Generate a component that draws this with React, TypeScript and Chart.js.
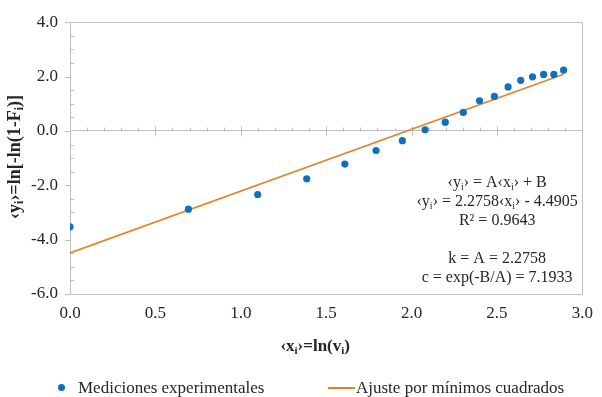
import React, { useEffect, useRef } from "react";
import { Chart, registerables } from "chart.js";

Chart.register(...registerables);

// ---- Data ----
const xValues = [0, 0.693, 1.099, 1.386, 1.609, 1.792, 1.946, 2.079, 2.197, 2.303, 2.398, 2.485, 2.565, 2.639, 2.708, 2.773, 2.833, 2.89];
const yValues = [-3.53, -2.88, -2.34, -1.76, -1.22, -0.72, -0.36, 0.04, 0.32, 0.68, 1.11, 1.27, 1.62, 1.86, 1.99, 2.08, 2.08, 2.24];
const fitX = [0, 2.89];
const fitY = [-4.4905, 2.0866];
const seriesNames = ["Mediciones experimentales", "Ajuste por mínimos cuadrados"];
const annotationLines = [
  "‹y_i› = A‹x_i› + B",
  "‹y_i› = 2.2758‹x_i› - 4.4905",
  "R² = 0.9643",
  "",
  "k = A = 2.2758",
  "c = exp(-B/A) = 7.1933",
];
const xTitle = "‹x_i›=ln(v_i)";
const yTitle = "‹y_i›=ln[-ln(1-F_i)]";
const xRange = [0, 3];
const yRange = [-6, 4];

const FONT = '"Liberation Serif", "Times New Roman", serif';
const DOT = "#1070C0";
const FIT = "#E0842E";
const AXIS = "#BFBFBF";
const TEXT = "#262626";

type Seg = { t: string; sub: boolean };
function parts(s: string): Seg[] {
  const out: Seg[] = [];
  let buf = "";
  for (let i = 0; i < s.length; i++) {
    if (s[i] === "_" && i + 1 < s.length) {
      if (buf) out.push({ t: buf, sub: false });
      buf = "";
      out.push({ t: s[i + 1], sub: true });
      i++;
    } else buf += s[i];
  }
  if (buf) out.push({ t: buf, sub: false });
  return out;
}

function drawRich(ctx: CanvasRenderingContext2D, s: string, x: number, y: number, size: number, weight: string, align: string) {
  const segs = parts(s);
  const widths = segs.map((g) => {
    ctx.font = `${weight} ${g.sub ? Math.round(size * 0.65) : size}px ${FONT}`;
    return ctx.measureText(g.t).width;
  });
  const total = widths.reduce((a, b) => a + b, 0);
  let cx = align === "center" ? x - total / 2 : align === "right" ? x - total : x;
  ctx.textAlign = "left";
  ctx.textBaseline = "alphabetic";
  segs.forEach((g, i) => {
    ctx.font = `${weight} ${g.sub ? Math.round(size * 0.65) : size}px ${FONT}`;
    ctx.fillText(g.t, cx, g.sub ? y + size * 0.18 : y);
    cx += widths[i];
  });
}

const decorPlugin = {
  id: "decor",
  beforeDatasetsDraw(chart: any) {
    const ctx = chart.ctx as CanvasRenderingContext2D;
    const xs = chart.scales.x;
    const ys = chart.scales.y;
    const left = chart.chartArea.left;
    const y0 = ys.getPixelForValue(0);
    ctx.save();
    ctx.strokeStyle = AXIS;
    ctx.lineWidth = 1;
    ctx.beginPath();
    // y axis ticks: major outside, minor inside
    for (let k = 0; k <= 20; k++) {
      const v = yRange[0] + k * 0.5;
      const py = Math.round(ys.getPixelForValue(v)) + 0.5;
      if (k % 4 === 0) {
        ctx.moveTo(left - 5, py);
        ctx.lineTo(left, py);
      } else {
        ctx.moveTo(left, py);
        ctx.lineTo(left + 4, py);
      }
    }
    // x axis (at y=0) ticks: major cross, minor above
    const py0 = Math.round(y0) + 0.5;
    for (let k = 1; k <= 30; k++) {
      const v = xRange[0] + k * 0.1;
      const px = Math.round(xs.getPixelForValue(v)) + 0.5;
      if (k % 5 === 0) {
        ctx.moveTo(px, py0 - 5);
        ctx.lineTo(px, py0 + 5);
      } else {
        ctx.moveTo(px, py0 - 4);
        ctx.lineTo(px, py0);
      }
    }
    ctx.stroke();
    ctx.restore();
  },
  afterDraw(chart: any) {
    const ctx = chart.ctx as CanvasRenderingContext2D;
    const ca = chart.chartArea;
    ctx.save();
    ctx.fillStyle = TEXT;
    // annotation
    const ax = ca.left + (ca.right - ca.left) * 0.82 + 7;
    annotationLines.forEach((line, i) => {
      if (line) drawRich(ctx, line, ax, 187 + i * 19, 16, "normal", "center");
    });
    // axis titles
    drawRich(ctx, xTitle, (ca.left + ca.right) / 2 - 11, 351, 17, "bold", "center");
    ctx.save();
    ctx.translate(20, 157);
    ctx.rotate(-Math.PI / 2);
    drawRich(ctx, yTitle, 0, 0, 18, "bold", "center");
    ctx.restore();
    // legend
    ctx.fillStyle = DOT;
    ctx.beginPath();
    ctx.arc(61.5, 387.5, 3.5, 0, Math.PI * 2);
    ctx.fill();
    ctx.fillStyle = TEXT;
    ctx.font = `17px ${FONT}`;
    ctx.textAlign = "left";
    ctx.textBaseline = "alphabetic";
    ctx.fillText(seriesNames[0], 78, 393);
    ctx.strokeStyle = FIT;
    ctx.lineWidth = 2;
    ctx.beginPath();
    ctx.moveTo(328, 388);
    ctx.lineTo(355, 388);
    ctx.stroke();
    ctx.fillText(seriesNames[1], 356, 393);
    ctx.restore();
  },
};

export default function App() {
  const ref = useRef<HTMLCanvasElement | null>(null);
  useEffect(() => {
    if (!ref.current) return;
    const chart = new Chart(ref.current, {
      type: "scatter",
      data: {
        datasets: [
          {
            label: seriesNames[0],
            data: xValues.map((x, i) => ({ x, y: yValues[i] })),
            backgroundColor: DOT,
            borderColor: DOT,
            pointRadius: 3.6,
            pointHoverRadius: 3.6,
            borderWidth: 0,
            order: 1,
          },
          {
            label: seriesNames[1],
            data: fitX.map((x, i) => ({ x, y: fitY[i] })),
            showLine: true,
            borderColor: FIT,
            backgroundColor: FIT,
            borderWidth: 1.6,
            pointRadius: 0,
            order: 2,
          } as any,
        ],
      },
      options: {
        animation: false,
        responsive: false,
        devicePixelRatio: 1,
        layout: { padding: { left: 0, right: 12, top: 16, bottom: 43 } },
        plugins: { legend: { display: false }, tooltip: { enabled: false } },
        scales: {
          x: {
            type: "linear",
            min: xRange[0],
            max: xRange[1],
            afterFit: (s: any) => {
              s.height = 60;
            },
            ticks: {
              stepSize: 0.5,
              padding: 9,
              color: TEXT,
              font: { family: FONT, size: 17 },
              callback: (v: any) => Number(v).toFixed(1),
            },
            grid: {
              drawTicks: false,
              color: (c: any) => (c.tick && c.tick.value === xRange[1] ? AXIS : "rgba(0,0,0,0)"),
            },
            border: { display: true, color: AXIS },
          },
          y: {
            type: "linear",
            min: yRange[0],
            max: yRange[1],
            afterFit: (s: any) => {
              s.width = 70;
            },
            ticks: {
              stepSize: 2,
              padding: 12,
              color: TEXT,
              font: { family: FONT, size: 17 },
              callback: (v: any) => Number(v).toFixed(1),
            },
            grid: {
              drawTicks: false,
              color: (c: any) =>
                c.tick && (c.tick.value === 0 || c.tick.value === yRange[1] || c.tick.value === yRange[0]) ? AXIS : "rgba(0,0,0,0)",
            },
            border: { display: true, color: AXIS },
          },
        },
      },
      plugins: [decorPlugin],
    });
    return () => chart.destroy();
  }, []);
  return (
    <div style={{ position: "fixed", left: 0, top: 0, width: 602, height: 397, background: "#fff" }}>
      <canvas ref={ref} width={602} height={397} style={{ width: 602, height: 397, display: "block" }} />
    </div>
  );
}
